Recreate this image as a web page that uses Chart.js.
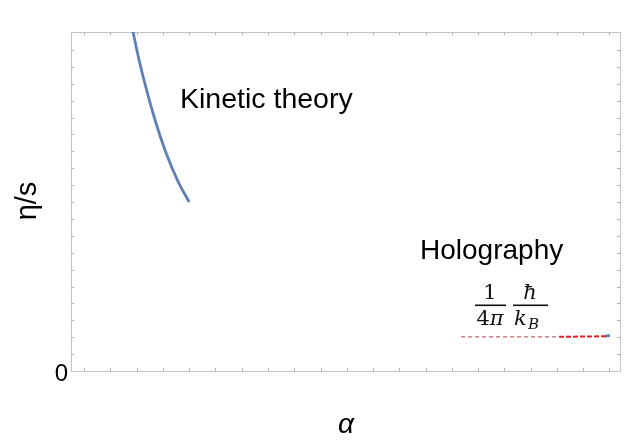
<!DOCTYPE html>
<html>
<head>
<meta charset="utf-8">
<script src="https://cdn.jsdelivr.net/npm/chart.js@4/dist/chart.umd.min.js"></script>
<style>
html,body{margin:0;padding:0;background:#fff;}
#wrap{width:627px;height:444px;}
</style>
</head>
<body>
<div id="wrap"><canvas id="c" width="627" height="444"></canvas></div>
<script>
// ---- data ----
const kineticX = [1.86, 2.13, 2.40, 2.72, 3.12, 3.55, 4.00];
const kineticY = [20.06, 18.15, 16.50, 14.75, 12.90, 11.30, 9.99];
const boundThinX = [14.35, 18.08];
const boundThinY = [2.02, 2.02];
const boundThickX = [18.08, 19.94];
const boundThickY = [2.02, 2.06];
const holoX = [19.83, 20.02];
const holoY = [2.07, 2.10];
const yTickLabels = ['0'];
const xTitle = 'α';
const yTitle = 'η/s';
const labelKinetic = 'Kinetic theory';
const labelHolo = 'Holography';

const pts = (xs, ys) => xs.map((x, i) => ({x: x, y: ys[i]}));
const BLUE = '#5e81b5';
const SERIF = '"DejaVu Serif", "Liberation Serif", serif';

const overlay = {
  id: 'overlay',
  beforeDatasetsDraw(chart) {
    const {ctx, chartArea: a, scales: {x, y}} = chart;
    ctx.save();
    ctx.strokeStyle = '#c4c4c4';
    ctx.lineWidth = 1;
    ctx.strokeRect(Math.round(a.left) + 0.5, Math.round(a.top) + 0.5,
                   Math.round(a.right - a.left), Math.round(a.bottom - a.top));
    ctx.strokeStyle = '#b4b4b4';
    ctx.beginPath();
    for (let v = 0; v <= 20; v++) {
      const px = Math.round(x.getPixelForValue(v)) + 0.5;
      ctx.moveTo(px, a.bottom); ctx.lineTo(px, a.bottom - 3);
      ctx.moveTo(px, a.top); ctx.lineTo(px, a.top + 3);
    }
    for (let v = 1; v <= 19; v++) {
      const py = Math.round(y.getPixelForValue(v)) + 0.5;
      ctx.moveTo(a.left, py); ctx.lineTo(a.left + 3, py);
      ctx.moveTo(a.right, py); ctx.lineTo(a.right - 3, py);
    }
    ctx.stroke();
    ctx.restore();
  },
  afterDraw(chart) {
    const {ctx, chartArea: a, scales: {x, y}} = chart;
    ctx.save();
    ctx.fillStyle = '#000';
    ctx.textBaseline = 'alphabetic';
    // tick label 0
    ctx.font = '24px "Liberation Sans", Arial, sans-serif';
    ctx.textAlign = 'center';
    ctx.fillText(yTickLabels[0], 61.5, y.getPixelForValue(0) + 10);
    // axis titles
    ctx.font = 'italic 28px "Liberation Sans", Arial, sans-serif';
    ctx.fillText(xTitle, 346, 433);
    ctx.save();
    ctx.translate(36, 201);
    ctx.rotate(-Math.PI / 2);
    ctx.font = '29px "Liberation Sans", Arial, sans-serif';
    ctx.fillText(yTitle, 0, 0);
    ctx.restore();
    // labels
    ctx.textAlign = 'left';
    ctx.font = '28.5px "Liberation Sans", Arial, sans-serif';
    ctx.fillText(labelKinetic, 180, 108);
    ctx.font = '28px "Liberation Sans", Arial, sans-serif';
    ctx.fillText(labelHolo, 420, 258.5);
    // formula 1/(4π) ħ/k_B
    ctx.fillStyle = '#111';
    ctx.textAlign = 'center';
    ctx.font = '21px ' + SERIF;
    ctx.fillText('1', 490, 299);
    ctx.textAlign = 'left';
    const w4 = ctx.measureText('4').width;
    ctx.font = 'italic 21px ' + SERIF;
    const wpi = ctx.measureText('π').width;
    let sx = 490 - (w4 + wpi) / 2;
    ctx.font = '21px ' + SERIF;
    ctx.fillText('4', sx, 325);
    ctx.font = 'italic 21px ' + SERIF;
    ctx.fillText('π', sx + w4, 325);
    ctx.textAlign = 'center';
    ctx.fillText('ħ', 530, 299);
    ctx.textAlign = 'left';
    ctx.fillText('k', 514, 325);
    ctx.font = 'italic 15px ' + SERIF;
    ctx.fillText('B', 528, 329);
    ctx.fillRect(475, 304.5, 31, 1.6);
    ctx.fillRect(513, 304.5, 35, 1.6);
    ctx.restore();
  }
};

new Chart(document.getElementById('c'), {
  type: 'line',
  data: {
    datasets: [
      {data: pts(kineticX, kineticY), borderColor: BLUE, borderWidth: 2.8,
       cubicInterpolationMode: 'monotone', pointRadius: 0, fill: false},
      {data: pts(boundThinX, boundThinY), borderColor: '#b84040', borderWidth: 1,
       borderDash: [4, 3], pointRadius: 0, fill: false},
      {data: pts(boundThickX, boundThickY), borderColor: '#e02020', borderWidth: 2,
       borderDash: [5, 2], pointRadius: 0, fill: false},
      {data: pts(holoX, holoY), borderColor: BLUE, borderWidth: 2.8, pointRadius: 0, fill: false}
    ]
  },
  options: {
    responsive: false,
    animation: false,
    events: [],
    layout: {padding: {left: 71, right: 7, top: 32, bottom: 73}},
    plugins: {legend: {display: false}, tooltip: {enabled: false}},
    scales: {
      x: {type: 'linear', min: -0.5, max: 20.4, display: false},
      y: {type: 'linear', min: 0, max: 20.06, display: false}
    }
  },
  plugins: [overlay]
});
</script>
</body>
</html>
